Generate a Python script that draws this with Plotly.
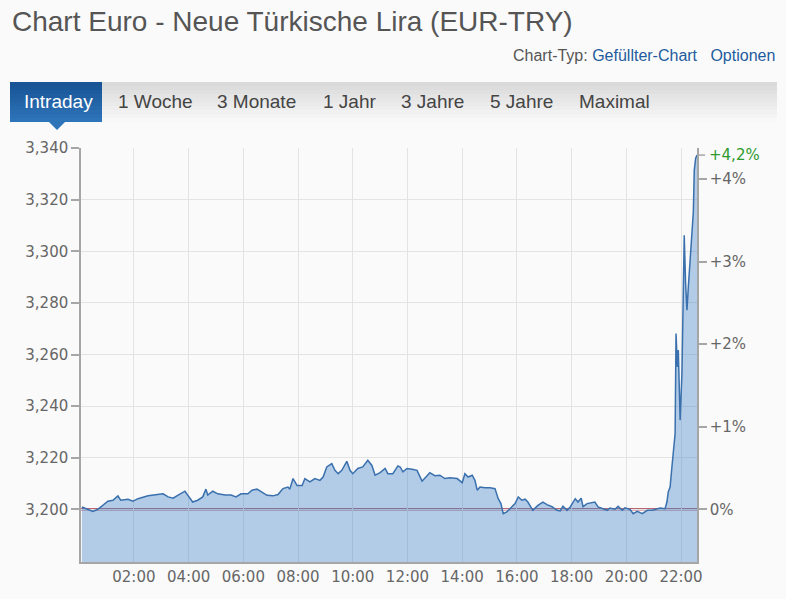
import plotly.graph_objects as go

# ==========================================
# DATEN
# ==========================================

TITEL = "Chart Euro - Neue Türkische Lira (EUR-TRY)"
TABS = ["Intraday", "1 Woche", "3 Monate", "1 Jahr", "3 Jahre", "5 Jahre", "Maximal"]
DATUM = "2016-07-15"
VORTAG = 3.200

zeiten = [
    "00:06", "00:19", "00:30", "00:41", "00:52", "01:03", "01:14", "01:25", "01:31", "01:47",
    "01:58", "02:09", "02:31", "02:53", "03:04", "03:15", "03:26", "03:37", "03:52", "03:58",
    "04:09", "04:20", "04:31", "04:38", "04:42", "04:53", "05:04", "05:20", "05:33", "05:44",
    "05:55", "06:10", "06:19", "06:30", "06:41", "06:52", "07:05", "07:16", "07:27", "07:38",
    "07:42", "07:49", "07:58", "08:09", "08:15", "08:26", "08:37", "08:48", "08:55", "09:03",
    "09:14", "09:21", "09:28", "09:36", "09:47", "09:54", "10:00", "10:11", "10:22", "10:33",
    "10:42", "10:49", "11:00", "11:11", "11:17", "11:28", "11:39", "11:44", "11:50", "11:59",
    "12:10", "12:21", "12:32", "12:43", "12:49", "13:00", "13:11", "13:22", "13:33", "13:49",
    "14:00", "14:06", "14:13", "14:22", "14:28", "14:33", "14:39", "14:50", "15:01", "15:12",
    "15:19", "15:25", "15:30", "15:38", "15:49", "15:56", "16:03", "16:11", "16:18", "16:24",
    "16:35", "16:46", "16:57", "17:06", "17:17", "17:28", "17:35", "17:41", "17:50", "17:57",
    "18:08", "18:14", "18:21", "18:25", "18:34", "18:45", "18:51", "18:58", "19:09", "19:18",
    "19:24", "19:35", "19:42", "19:51", "19:57", "20:08", "20:15", "20:24", "20:35", "20:46",
    "20:57", "21:07", "21:14", "21:25", "21:29", "21:32", "21:36", "21:40", "21:43", "21:47",
    "21:49", "21:52", "21:54", "21:58", "22:02", "22:04", "22:07", "22:10", "22:13", "22:16",
    "22:20", "22:24", "22:27", "22:29", "22:32", "22:35",
]

kurse = [
    3.2009, 3.2000, 3.1992, 3.2000, 3.2015, 3.2031, 3.2035, 3.2052, 3.2035, 3.2039,
    3.2031, 3.2041, 3.2052, 3.2057, 3.2060, 3.2048, 3.2043, 3.2055, 3.2070, 3.2055,
    3.2028, 3.2035, 3.2048, 3.2078, 3.2055, 3.2070, 3.2060, 3.2055, 3.2055, 3.2048,
    3.2060, 3.2060, 3.2074, 3.2078, 3.2067, 3.2054, 3.2052, 3.2057, 3.2080, 3.2086,
    3.2078, 3.2119, 3.2092, 3.2092, 3.2119, 3.2106, 3.2119, 3.2112, 3.2125, 3.2164,
    3.2177, 3.2151, 3.2138, 3.2151, 3.2186, 3.2151, 3.2138, 3.2158, 3.2164, 3.2190,
    3.2170, 3.2132, 3.2142, 3.2158, 3.2138, 3.2138, 3.2168, 3.2164, 3.2145, 3.2158,
    3.2155, 3.2151, 3.2109, 3.2132, 3.2142, 3.2130, 3.2132, 3.2119, 3.2122, 3.2119,
    3.2103, 3.2138, 3.2125, 3.2132, 3.2112, 3.2074, 3.2086, 3.2083, 3.2083, 3.2080,
    3.2041, 3.2022, 3.1983, 3.1990, 3.2010, 3.2022, 3.2048, 3.2035, 3.2039, 3.2028,
    3.1996, 3.2015, 3.2028, 3.2018, 3.2010, 3.1996, 3.1994, 3.2012, 3.1996, 3.2009,
    3.2041, 3.2028, 3.2043, 3.2010, 3.2022, 3.2026, 3.2028, 3.2009, 3.2002, 3.1996,
    3.2005, 3.2000, 3.2012, 3.1996, 3.2006, 3.2000, 3.1983, 3.1992, 3.1983, 3.1996,
    3.1996, 3.2000, 3.2005, 3.2002, 3.2028, 3.2067, 3.2086, 3.2164, 3.2216, 3.2293,
    3.2681, 3.2552, 3.2617, 3.2345, 3.2526, 3.2720, 3.3062, 3.2875, 3.2772, 3.2862,
    3.2978, 3.3082, 3.3153, 3.3314, 3.3360, 3.3373,
]

y_ticks = [3.20, 3.22, 3.24, 3.26, 3.28, 3.30, 3.32, 3.34]
x_ticks = ["02:00", "04:00", "06:00", "08:00", "10:00", "12:00",
           "14:00", "16:00", "18:00", "20:00", "22:00"]
pct_ticks = [0, 1, 2, 3, 4]

# ==========================================
# GEOMETRIE (Pixel -> Paper)
# ==========================================

W, H = 786, 599
L, R, T, B = 81, 697, 148, 562
Y_MIN, Y_MAX = 3.17956, 3.34005
X_START, X_END = "00:04", "22:35"


def px(x, y):
    return (x - L) / (R - L), (B - y) / (B - T)


def ts(hhmm):
    return f"{DATUM} {hhmm}"


def pct(v):
    return (v / VORTAG - 1) * 100


BLAU = "#3a70ad"
GRAU_TXT = "#666666"
ACHSE = "#a6a6a6"
GRID = "#e3e3e3"

fig = go.Figure()

fig.add_trace(
    go.Scatter(
        x=[ts(t) for t in zeiten],
        y=kurse,
        mode="lines",
        name="EUR-TRY",
        line=dict(color=BLAU, width=1.5),
        fill="tozeroy",
        fillcolor="rgba(60,130,200,0.38)",
        showlegend=False
    )
)

# unsichtbare Spur für die Prozentachse
fig.add_trace(
    go.Scatter(
        x=[ts(X_START)],
        y=[0],
        yaxis="y2",
        mode="markers",
        marker=dict(opacity=0),
        hoverinfo="skip",
        showlegend=False
    )
)

shapes = []
annotations = []

# Vortageslinie (unter der Fläche)
shapes.append(dict(type="line", xref="paper", yref="y",
                   x0=0, x1=1, y0=VORTAG, y1=VORTAG,
                   line=dict(color="rgb(185,100,115)", width=2.5), layer="below"))

# Tab-Leiste mit Verlauf
n = 10
for i in range(n):
    y0 = 82 + i * 4
    g = int(218 + (248 - 218) * i / (n - 1))
    x0p, y0p = px(10, y0)
    x1p, y1p = px(777, y0 + 4)
    shapes.append(dict(type="rect", xref="paper", yref="paper",
                       x0=x0p, x1=x1p, y0=y0p, y1=y1p,
                       fillcolor=f"rgb({g},{g},{g})", line=dict(width=0), layer="above"))

for i in range(n):
    y0 = 82 + i * 4
    r = int(24 + (46 - 24) * i / (n - 1))
    gg = int(84 + (116 - 84) * i / (n - 1))
    b = int(150 + (184 - 150) * i / (n - 1))
    x0p, y0p = px(10, y0)
    x1p, y1p = px(102, y0 + 4)
    shapes.append(dict(type="rect", xref="paper", yref="paper",
                       x0=x0p, x1=x1p, y0=y0p, y1=y1p,
                       fillcolor=f"rgb({r},{gg},{b})", line=dict(width=0), layer="above"))

# Dreieck unter "Intraday"
ax, ay = px(49, 122)
bx, by = px(65, 122)
cx, cy = px(57, 130)
shapes.append(dict(type="path", xref="paper", yref="paper",
                   path=f"M {ax},{ay} L {bx},{by} L {cx},{cy} Z",
                   fillcolor="rgb(46,116,184)", line=dict(width=0), layer="above"))

tab_x = [22, 116, 215, 321, 399, 488, 577]
for name, x in zip(TABS, tab_x):
    xp, yp = px(x, 102)
    annotations.append(dict(
        text=name, xref="paper", yref="paper", x=xp, y=yp,
        xanchor="left", yanchor="middle", showarrow=False,
        font=dict(family="Liberation Sans, Arial", size=19,
                  color="white" if name == "Intraday" else "#444444")
    ))

# Titel
xp, yp = px(10, 22)
annotations.append(dict(
    text=TITEL, xref="paper", yref="paper", x=xp, y=yp,
    xanchor="left", yanchor="middle", showarrow=False,
    font=dict(family="Liberation Sans, Arial", size=28, color="#555555")
))

xp, yp = px(777, 56)
annotations.append(dict(
    text="Chart-Typ: <span style='color:#1f5c9e'>Gefüllter-Chart</span>"
         "&nbsp;&nbsp; <span style='color:#1f5c9e'>Optionen</span>",
    xref="paper", yref="paper", x=xp, y=yp,
    xanchor="right", yanchor="middle", showarrow=False,
    font=dict(family="Liberation Sans, Arial", size=16, color="#555555")
))

# Letzter Kurs in Prozent (grün)
letzt = kurse[-1]
p = int(pct(letzt) * 10) / 10
annotations.append(dict(
    text=f"+{p:.1f}%".replace(".", ","),
    xref="paper", yref="y", x=1, y=letzt,
    xanchor="left", yanchor="middle", xshift=10, showarrow=False,
    font=dict(family="DejaVu Sans", size=15, color="#2e9a2e")
))
shapes.append(dict(type="line", xref="paper", yref="y",
                   x0=1, x1=1 + 8 / (R - L), y0=letzt, y1=letzt,
                   line=dict(color=ACHSE, width=1.5)))

fig.update_layout(
    width=W,
    height=H,
    margin=dict(l=L, r=W - R, t=T, b=H - B, autoexpand=False),
    paper_bgcolor="#fafafa",
    plot_bgcolor="#fafafa",
    separators=",.",
    showlegend=False,
    shapes=shapes,
    annotations=annotations,
    font=dict(family="DejaVu Sans", size=15, color=GRAU_TXT),
    xaxis=dict(
        type="date",
        range=[ts(X_START), ts(X_END)],
        tickvals=[ts(t) for t in x_ticks],
        ticktext=x_ticks,
        showgrid=True, gridcolor=GRID, gridwidth=1,
        showline=True, linecolor=ACHSE, linewidth=1.5,
        ticks="", zeroline=False,
        tickfont=dict(family="DejaVu Sans", size=15, color=GRAU_TXT)
    ),
    yaxis=dict(
        range=[Y_MIN, Y_MAX],
        tickvals=y_ticks,
        tickformat=".3f",
        showgrid=True, gridcolor=GRID, gridwidth=1,
        showline=True, linecolor=ACHSE, linewidth=1.5,
        ticks="outside", ticklen=8, tickcolor=ACHSE, tickwidth=1.5,
        zeroline=False,
        tickfont=dict(family="DejaVu Sans", size=15, color=GRAU_TXT)
    ),
    yaxis2=dict(
        overlaying="y", side="right",
        range=[pct(Y_MIN), pct(Y_MAX)],
        tickvals=pct_ticks,
        ticktext=["0%" if v == 0 else f"+{v}%" for v in pct_ticks],
        showgrid=False,
        showline=True, linecolor=ACHSE, linewidth=1.5,
        ticks="outside", ticklen=8, tickcolor=ACHSE, tickwidth=1.5,
        zeroline=False,
        tickfont=dict(family="DejaVu Sans", size=15, color=GRAU_TXT)
    )
)

fig.write_html(
    "out.html",
    config={"displayModeBar": False},
    post_script="document.body.style.margin='0';"
)
